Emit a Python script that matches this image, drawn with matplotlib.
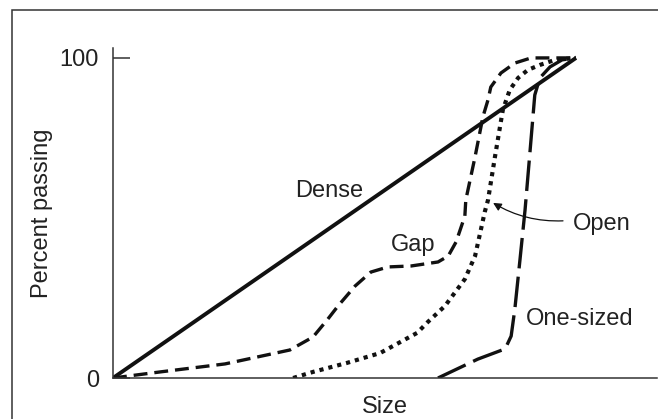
import matplotlib
matplotlib.use("Agg")
import matplotlib.pyplot as plt
from matplotlib.patches import Rectangle

plt.rcParams['font.family'] = ['Liberation Sans', 'DejaVu Sans']
plt.rcParams['lines.scale_dashes'] = False

# grading curves, x = size (arbitrary units), y = percent passing
dense_x = [0, 100]
dense_y = [0, 100]

gap_x = [0, 10.2, 24.2, 38.2, 43.2, 46.4, 48.6, 52.3, 55.7, 59.4, 64.4, 70.2, 72.4,
         74.1, 76.0, 76.2, 78.2, 79.9, 81.0, 81.6, 83.8, 86.8, 90.3, 95.5, 100]
gap_y = [0, 1.9, 4.4, 8.75, 12.8, 18.4, 22.5, 28.75, 33.1, 34.7, 35.0, 36.25, 38.1,
         42.5, 50.6, 55.6, 69.1, 81.6, 86.9, 90.9, 95.3, 98.4, 100, 100, 100]

open_x = [38.9, 43.2, 50.5, 57.7, 65.7, 68.0, 71.7, 76.0, 78.2, 79.5, 80.3, 81.0,
          82.5, 84.2, 85.7, 87.5, 89.6, 92.2, 95.5, 100]
open_y = [0, 1.9, 4.7, 7.8, 14.1, 17.5, 22.5, 30.9, 38.1, 46.6, 51.9, 55.6,
          69.1, 83.75, 90, 93.75, 96.25, 97.8, 99.4, 100]

one_x = [70.2, 78.8, 84.7, 86.0, 86.8, 87.9, 89.0, 90.1, 91.1, 92.2, 94.4, 97.0, 100]
one_y = [0, 5.9, 9.1, 13.1, 21.6, 36.9, 52.5, 71.25, 88.4, 93.75, 97.2, 99.4, 100]

ink = '#111111'
txt = '#222222'

fig = plt.figure(figsize=(6.58, 4.19), dpi=100)
ax = fig.add_axes([113/658, 41/419, 544/658, 330/419])

ax.plot(dense_x, dense_y, color=ink, lw=2.8, solid_capstyle='butt')
ax.plot(gap_x, gap_y, color=ink, lw=2.4, dashes=(10, 5))
ax.plot(open_x, open_y, color=ink, lw=3.0, dashes=(3, 3.6))
ax.plot(one_x, one_y, color=ink, lw=2.4, dashes=(22, 6))

ax.set_xlim(0, 117.5)
ax.set_ylim(0, 103.1)

for s in ['top', 'right']:
    ax.spines[s].set_visible(False)
for s in ['left', 'bottom']:
    ax.spines[s].set_linewidth(1.1)
    ax.spines[s].set_color('#333333')

ax.set_xticks([])
ax.set_yticks([0, 100])
ax.set_yticklabels(['0', '100'])
ax.tick_params(axis='y', direction='in', length=12, width=1.1, color='#333333',
               pad=10, labelsize=17, labelcolor=txt)

ax.set_xlabel('Size', fontsize=17, color=txt, labelpad=13)
ax.set_ylabel('Percent passing', fontsize=17, color=txt, labelpad=5)

ax.text(39.3, 56.6, 'Dense', fontsize=17, color=txt, va='baseline')
ax.text(60.0, 39.8, 'Gap', fontsize=17, color=txt, va='baseline')
ax.text(99.4, 46.25, 'Open', fontsize=17, color=txt, va='baseline')
ax.text(89.2, 16.6, 'One-sized', fontsize=17, color=txt, va='baseline')

ax.annotate('', xy=(82.1, 54.7), xytext=(97.2, 49.1),
            arrowprops=dict(arrowstyle='-|>', color=ink, lw=0.9,
                            mutation_scale=12, shrinkA=0, shrinkB=0,
                            connectionstyle='arc3,rad=-0.15'))

fig.patches.append(Rectangle((12/658, -0.5), 2, 0.5 + (1 - 10.5/419),
                             transform=fig.transFigure, fill=False,
                             lw=1.1, ec='#333333'))

fig.savefig('out.png', dpi=100)
